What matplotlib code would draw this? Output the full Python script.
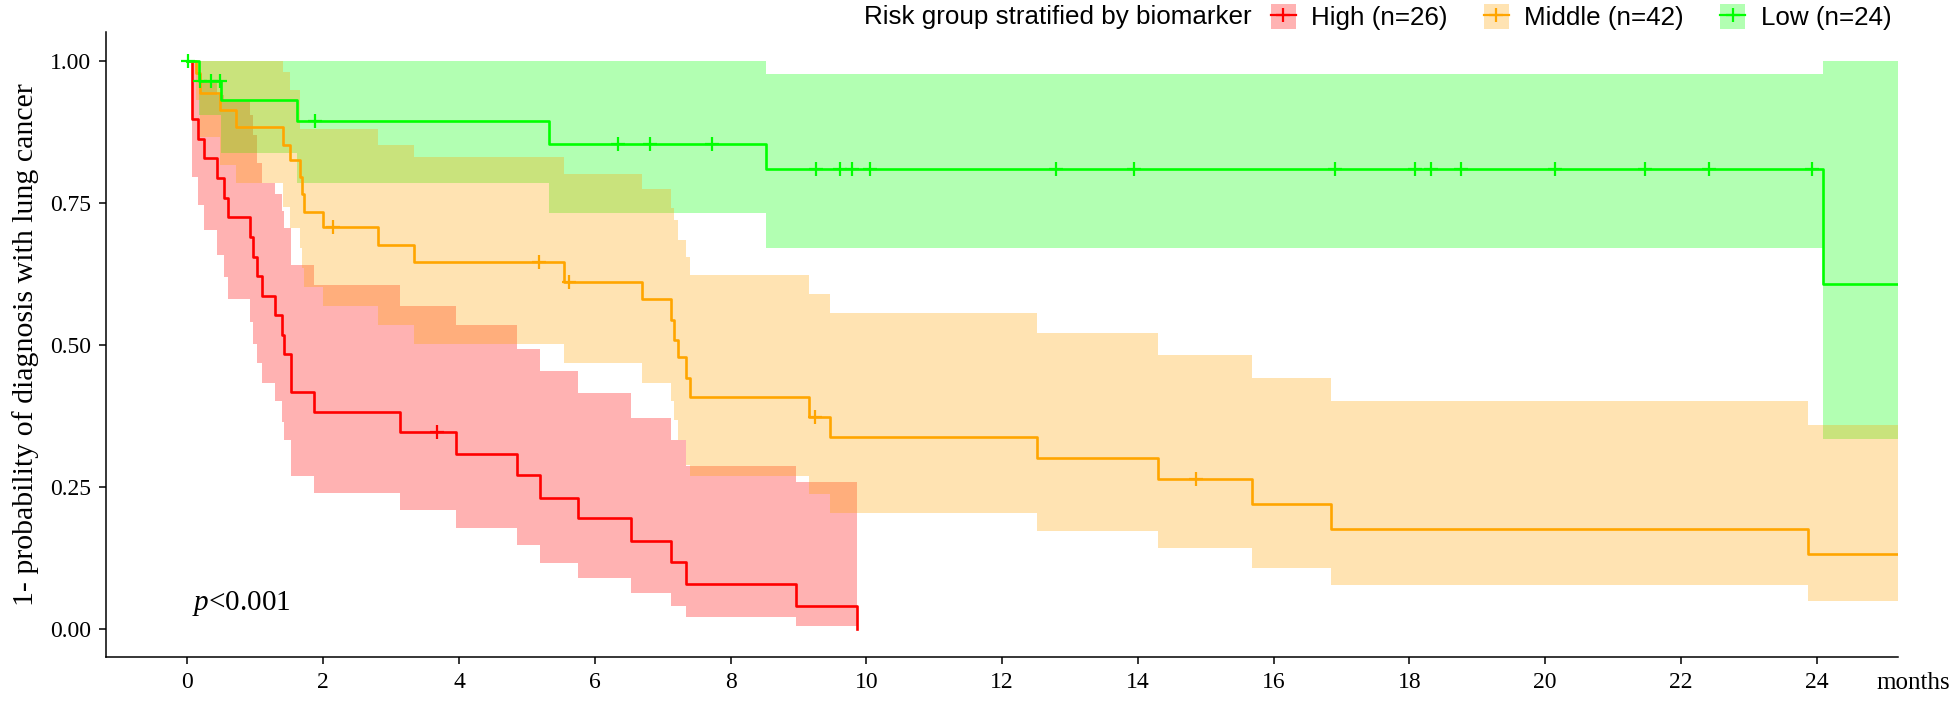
import numpy as np
import matplotlib
matplotlib.use("Agg")
import matplotlib.pyplot as plt
from matplotlib.patches import Patch
from matplotlib.lines import Line2D
from matplotlib.legend_handler import HandlerTuple

plt.rcParams['mathtext.fontset'] = 'custom'
plt.rcParams['mathtext.rm'] = 'Liberation Serif'
plt.rcParams['mathtext.it'] = 'Liberation Serif:italic'

# ---------------- data ----------------
groups = ["High (n=26)", "Middle (n=42)", "Low (n=24)"]
line_colors = ["#FF0000", "#FFA500", "#00FF00"]

high_t = [0, 0.06, 0.15, 0.24, 0.44, 0.54, 0.60, 0.92, 0.97, 1.02, 1.10, 1.29, 1.39, 1.42,
          1.52, 1.86, 3.13, 3.95, 4.86, 5.19, 5.75, 6.53, 7.13, 7.35, 8.96, 9.87]
high_s = [1.0, 0.897, 0.862, 0.828, 0.793, 0.758, 0.725, 0.690, 0.655, 0.621, 0.586, 0.552,
          0.517, 0.483, 0.417, 0.382, 0.347, 0.307, 0.270, 0.230, 0.194, 0.155, 0.117, 0.078,
          0.039, 0.0]
high_up = [1.0, 1.0, 0.965, 0.96, 0.94, 0.931, 0.931, 0.905, 0.87, 0.82, 0.785, 0.765, 0.735,
           0.705, 0.64, 0.605, 0.568, 0.535, 0.493, 0.454, 0.414, 0.370, 0.332, 0.287, 0.259, 0.259]
high_lo = [1.0, 0.796, 0.746, 0.702, 0.658, 0.620, 0.580, 0.540, 0.502, 0.467, 0.432, 0.400,
           0.364, 0.332, 0.269, 0.239, 0.209, 0.177, 0.147, 0.116, 0.089, 0.063, 0.040, 0.021,
           0.005, 0.005]
high_cens = [3.68]

mid_t = [0, 0.125, 0.18, 0.48, 0.715, 1.41, 1.51, 1.66, 1.68, 1.71, 2.00, 2.81, 3.33, 5.54,
         6.70, 7.13, 7.17, 7.22, 7.34, 7.41, 9.16, 9.47, 12.51, 14.30, 15.68, 16.85, 23.87, 25.2]
mid_s = [1.0, 0.978, 0.943, 0.913, 0.883, 0.852, 0.825, 0.796, 0.765, 0.734, 0.708, 0.675,
         0.646, 0.611, 0.580, 0.543, 0.508, 0.479, 0.442, 0.408, 0.373, 0.337, 0.300, 0.263,
         0.219, 0.175, 0.131, 0.131]
mid_up = [1.0, 1.0, 1.0, 1.0, 1.0, 0.98, 0.948, 0.88, 0.879, 0.879, 0.879, 0.852, 0.830, 0.800,
          0.774, 0.74, 0.72, 0.684, 0.655, 0.623, 0.590, 0.556, 0.520, 0.482, 0.442, 0.401,
          0.359, 0.359]
mid_lo = [1.0, 0.93, 0.866, 0.816, 0.784, 0.743, 0.705, 0.67, 0.635, 0.602, 0.568, 0.535,
          0.501, 0.467, 0.432, 0.40, 0.367, 0.332, 0.288, 0.268, 0.237, 0.204, 0.172, 0.142,
          0.107, 0.077, 0.049, 0.049]
mid_cens = [2.14, 5.18, 5.62, 9.25, 14.86]

low_t = [0, 0.17, 0.50, 1.62, 5.32, 8.52, 24.09, 25.2]
low_s = [1.0, 0.964, 0.930, 0.893, 0.853, 0.809, 0.607, 0.607]
low_up = [1.0, 1.0, 1.0, 1.0, 1.0, 0.976, 1.0, 1.0]
low_lo = [1.0, 0.904, 0.838, 0.784, 0.731, 0.671, 0.334, 0.334]
low_cens = [0.01, 0.19, 0.34, 0.48, 1.88, 6.34, 6.81, 7.72, 9.26, 9.61, 9.79, 10.05, 12.80,
            13.95, 16.90, 18.08, 18.32, 18.76, 20.14, 21.47, 22.42, 23.93]

x_ticks = list(range(0, 25, 2))
y_ticks = [0.0, 0.25, 0.50, 0.75, 1.00]
y_tick_labels = ["0.00", "0.25", "0.50", "0.75", "1.00"]

# ---------------- figure ----------------
fig = plt.figure(figsize=(19.6, 7.01), dpi=100)
ax = fig.add_axes([0.0541, 0.0628, 0.9143, 0.8911])

series = {
    "High": (high_t, high_s, high_up, high_lo, high_cens, line_colors[0]),
    "Middle": (mid_t, mid_s, mid_up, mid_lo, mid_cens, line_colors[1]),
    "Low": (low_t, low_s, low_up, low_lo, low_cens, line_colors[2]),
}

# confidence bands (order chosen to reproduce the overlap colours)
for key in ["High", "Low", "Middle"]:
    t, s, up, lo, cens, c = series[key]
    ax.fill_between(t, lo, up, step="post", color=c, alpha=0.3, linewidth=0, zorder=1)

# survival step lines + censor marks
for key in ["High", "Middle", "Low"]:
    t, s, up, lo, cens, c = series[key]
    ax.plot(t, s, drawstyle="steps-post", color=c, lw=1.9, zorder=3)
    t_arr = np.asarray(t)
    s_arr = np.asarray(s)
    idx = np.searchsorted(t_arr, cens, side="right") - 1
    ax.plot(cens, s_arr[idx], linestyle="none", marker="+", color=c,
            markersize=10, markeredgewidth=1.6, zorder=4)

ax.set_xlim(-1.2, 25.2)
ax.set_ylim(-0.05, 1.05)
ax.set_xticks(x_ticks)
ax.set_xticklabels([str(v) for v in x_ticks])
ax.set_yticks(y_ticks)
ax.set_yticklabels(y_tick_labels)

for sp in ["top", "right"]:
    ax.spines[sp].set_visible(False)
for sp in ["left", "bottom"]:
    ax.spines[sp].set_linewidth(1.1)
ax.tick_params(axis="both", direction="out", length=5, width=1.1, labelsize=17,
               pad=6)
for lab in ax.get_xticklabels() + ax.get_yticklabels():
    lab.set_fontfamily("Liberation Serif")

ax.set_ylabel("1- probability of diagnosis with lung cancer", fontsize=21.5,
              fontfamily="Liberation Serif", labelpad=8)

fig.text(1876 / 1960, 1 - 683 / 701, "months", fontsize=18, fontfamily="Liberation Serif",
         ha="left", va="center")

ax.text(0.06, 0.045, r"$\mathit{p}$<0.001", fontsize=21, ha="left", va="center",
        fontfamily="Liberation Serif")

# legend
handles = []
for c in line_colors:
    handles.append((Patch(facecolor=c, alpha=0.3, edgecolor="none"),
                    Line2D([], [], color=c, marker="+", markersize=10,
                           markeredgewidth=1.6, lw=1.6)))
leg = fig.legend(handles, groups, loc="center left",
                 bbox_to_anchor=(1271 / 1960, 1 - 17 / 701), ncol=3, frameon=False,
                 handler_map={tuple: HandlerTuple(ndivide=1)},
                 prop={"family": "Liberation Sans", "size": 18.7},
                 handlelength=0.95, handleheight=1.1, handletextpad=0.6,
                 columnspacing=1.4, borderpad=0, borderaxespad=0)
fig.text(1252 / 1960, 1 - 17 / 701, "Risk group stratified by biomarker",
         fontsize=18.7, fontfamily="Liberation Sans", ha="right", va="center")

fig.savefig("out.png", dpi=100)
